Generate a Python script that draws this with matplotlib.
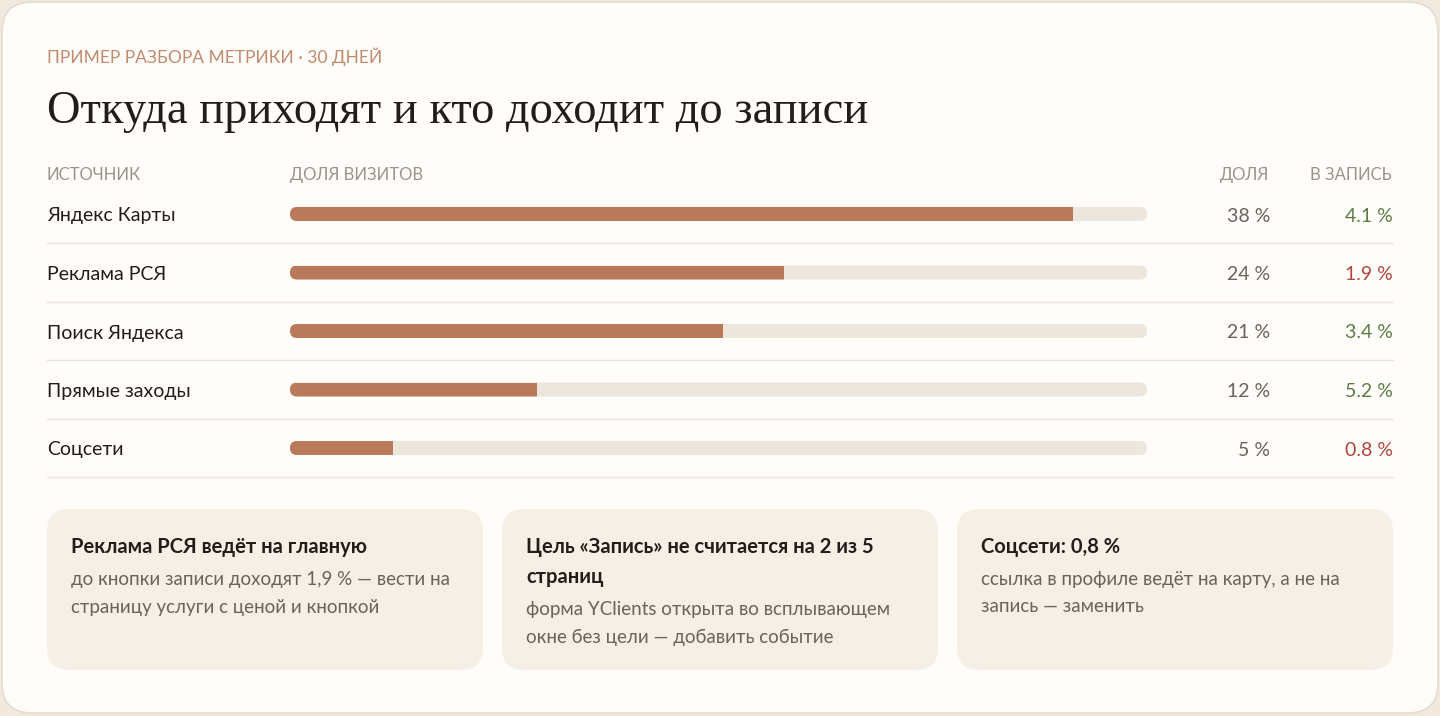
import matplotlib.pyplot as plt
from matplotlib.patches import FancyBboxPatch

# data
sources = ["Яндекс Карты", "Реклама РСЯ", "Поиск Яндекса", "Прямые заходы", "Соцсети"]
share = [38, 24, 21, 12, 5]          # доля визитов, %
conversion = [4.1, 1.9, 3.4, 5.2, 0.8]  # в запись, %
share_max = 41.6                     # scale of the bar track

kicker = "ПРИМЕР РАЗБОРА МЕТРИКИ · 30 ДНЕЙ"
title = "Откуда приходят и кто доходит до записи"
headers = ["ИСТОЧНИК", "ДОЛЯ ВИЗИТОВ", "ДОЛЯ", "В ЗАПИСЬ"]
card_titles = [["Реклама РСЯ ведёт на главную"],
               ["Цель «Запись» не считается на 2 из 5", "страниц"],
               ["Соцсети: 0,8 %"]]
card_texts = [["до кнопки записи доходят 1,9 % — вести на", "страницу услуги с ценой и кнопкой"],
              ["форма YClients открыта во всплывающем", "окне без цели — добавить событие"],
              ["ссылка в профиле ведёт на карту, а не на", "запись — заменить"]]

# colours
BG = "#f1e9de"
CARD = "#fffdfa"
ACCENT = "#c08a6e"
BAR = "#b87a5a"
TRACK = "#ede6dc"
MUTED = "#9b928a"
INK = "#231d19"
VAL = "#6b625b"
GOOD = "#5e7d45"
BAD = "#b0463c"
NOTE = "#f5efe6"
RULE = "#ebe4da"

plt.rcParams['font.family'] = ['Lato', 'DejaVu Sans']

W, H = 1440, 716
fig = plt.figure(figsize=(W / 100, H / 100), dpi=100)
fig.patch.set_facecolor(BG)

bg = fig.add_axes([0, 0, 1, 1])
bg.set_xlim(0, W)
bg.set_ylim(H, 0)
bg.axis('off')

# outer card
bg.add_patch(FancyBboxPatch((2, 2), W - 4, H - 5, boxstyle="round,pad=0,rounding_size=30",
                            facecolor=CARD, edgecolor="#e6dccf", lw=1.2))

bg.text(47, 57, kicker, fontsize=12.5, color=ACCENT, va='center', ha='left')
bg.text(47, 112, title, fontsize=33.5, color=INK, va='center', ha='left',
        family='Liberation Serif')

hy = 175
bg.text(47, hy, headers[0], fontsize=12, color=MUTED, va='center')
bg.text(290, hy, headers[1], fontsize=12, color=MUTED, va='center')
bg.text(1269, hy, headers[2], fontsize=12, color=MUTED, va='center', ha='right')
bg.text(1392, hy, headers[3], fontsize=12, color=MUTED, va='center', ha='right')

row0, row_step = 214, 58.5
for i, (src, s, c) in enumerate(zip(sources, share, conversion)):
    y = row0 + i * row_step
    bg.text(47, y + 2, src, fontsize=14, color=INK, va='center')
    bg.text(1270, y + 2, f"{s} %", fontsize=14, color=VAL, va='center', ha='right')
    bg.text(1393, y + 2, f"{c:.1f} %", fontsize=14, color=GOOD if c >= 3 else BAD,
            va='center', ha='right')
    bg.plot([47, 1393], [y + 29, y + 29], color=RULE, lw=1)

# bars
x0, x1 = 290, 1147
top = row0 - row_step / 2
ax = fig.add_axes([x0 / W, 1 - (top + row_step * len(sources)) / H,
                   (x1 - x0) / W, row_step * len(sources) / H])
ax.set_xlim(0, share_max)
ax.set_ylim(len(sources) - 0.5, -0.5)
ax.axis('off')

bar_px = 14
h = bar_px / row_step
px_x = share_max / (x1 - x0)
px_y = 1 / row_step
r = (bar_px / 2) * px_x
for i, s in enumerate(share):
    track = FancyBboxPatch((0, i - h / 2), share_max, h,
                           boxstyle=f"round,pad=0,rounding_size={r}",
                           mutation_aspect=px_y / px_x,
                           facecolor=TRACK, edgecolor='none')
    ax.add_patch(track)
    bars = ax.barh(i, s, height=h, color=BAR)
    for p in bars:
        p.set_clip_path(track)

# note cards
cards_x = [47, 502, 957]
card_w, cy0, cy1 = 436, 509, 670
for k, cx in enumerate(cards_x):
    bg.add_patch(FancyBboxPatch((cx, cy0), card_w, cy1 - cy0,
                                boxstyle="round,pad=0,rounding_size=22",
                                facecolor=NOTE, edgecolor='none'))
    y = 547
    for line in card_titles[k]:
        bg.text(cx + 24, y, line, fontsize=14.5, fontweight='bold', color=INK, va='center')
        y += 30
    y += 3
    for line in card_texts[k]:
        bg.text(cx + 24, y, line, fontsize=13.5, color=VAL, va='center')
        y += 27

fig.savefig("out.png", dpi=100, facecolor=BG)
